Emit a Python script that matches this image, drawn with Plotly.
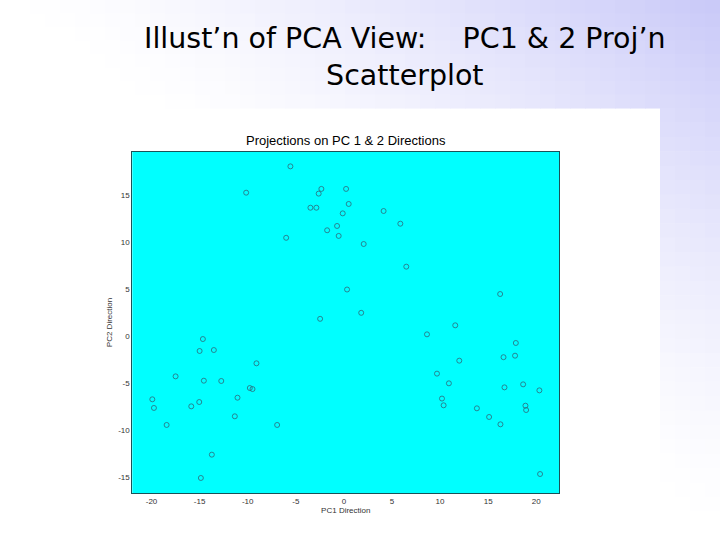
import plotly.graph_objects as go

# ---- data ----
pc1 = [-5.56, -10.16, -2.34, -2.62, 0.23, -3.48, -2.86, 0.5, -0.12, -0.71,
       -1.74, -0.54, -6.0, 0.33, -2.47, 4.13, 5.87, 2.06, 6.49, 16.25,
       1.8, -14.66, -15.0, -13.52, -9.09, -17.5, -14.56, -12.75, -9.78, -9.5,
       -19.92, -19.75, -15.87, -15.04, -11.06, -11.34, -18.43, -6.94, -13.73, -14.87,
       11.58, 8.64, 17.88, 16.6, 17.8, 12.0, 9.68, 10.92, 16.7, 18.64,
       20.33, 10.2, 10.37, 13.83, 18.88, 18.95, 15.1, 16.28, 20.4]
pc2 = [18.1, 15.3, 15.7, 15.2, 15.7, 13.7, 13.7, 14.1, 13.1, 11.76,
       11.3, 10.7, 10.5, 5.0, 1.88, 13.35, 12.0, 9.84, 7.43, 4.52,
       2.52, -0.27, -1.54, -1.44, -2.85, -4.24, -4.7, -4.73, -5.48, -5.59,
       -6.68, -7.6, -7.43, -6.97, -6.51, -8.49, -9.41, -9.41, -12.57, -15.05,
       1.19, 0.23, -0.69, -2.2, -2.04, -2.57, -3.95, -4.98, -5.41, -5.09,
       -5.73, -6.6, -7.32, -7.64, -7.36, -7.82, -8.56, -9.34, -14.63]
x_ticks = [-20, -15, -10, -5, 0, 5, 10, 15, 20]
y_ticks = [-15, -10, -5, 0, 5, 10, 15]

W, H = 720, 540

fig = go.Figure()
fig.add_trace(go.Scatter(
    x=pc1, y=pc2, mode="markers",
    marker=dict(symbol="circle-open", size=5, color="#2f6878", line=dict(width=0.8)),
    showlegend=False, hoverinfo="x+y"))

# ---- slide background gradient (decoration) ----
shapes = []
def shade(cx, cy):
    t = 1 - ((W - cx) / W + cy / H)
    t = max(0.0, min(1.0, t)) ** 1.4
    r = round(255 - t * (255 - 200))
    g = round(255 - t * (255 - 200))
    b = round(255 - t * (255 - 248))
    return f"rgb({r},{g},{b})"

def add_rect(x0, x1, y0, y1, color):
    shapes.append(dict(type="rect", xref="paper", yref="paper",
                       x0=x0 / W, x1=min(1, x1 / W + 0.001),
                       y0=max(0, 1 - y1 / H - 0.001), y1=1 - y0 / H,
                       fillcolor=color, line=dict(width=0), layer="below"))

nx, ny = 48, 8
for i in range(nx):
    for j in range(ny):
        x0, x1 = i * W / nx, (i + 1) * W / nx
        y0, y1 = j * 108 / ny, (j + 1) * 108 / ny
        add_rect(x0, x1, y0, y1, shade((x0 + x1) / 2, (y0 + y1) / 2))
for i in range(4):
    for j in range(30):
        x0, x1 = 660 + i * 60 / 4, 660 + (i + 1) * 60 / 4
        y0, y1 = 108 + j * 432 / 30, 108 + (j + 1) * 432 / 30
        add_rect(x0, x1, y0, y1, shade((x0 + x1) / 2, (y0 + y1) / 2))

tick_font = dict(family="Liberation Sans, Arial", size=8, color="#333333")
axis_common = dict(showgrid=False, zeroline=False, showline=True, mirror=True,
                   linecolor="#1a5258", linewidth=1, ticks="", tickfont=tick_font)

fig.update_layout(
    width=W, height=H, margin=dict(l=0, r=0, t=0, b=0),
    paper_bgcolor="white", plot_bgcolor="#00ffff",
    shapes=shapes,
    xaxis=dict(domain=[132.3 / W, 559.3 / W], range=[-22.0, 22.4],
               tickvals=x_ticks, ticktext=[str(v) for v in x_ticks],
               title=dict(text="PC1 Direction", standoff=2, font=tick_font),
               **axis_common),
    yaxis=dict(domain=[(H - 493.3) / H, (H - 151.7) / H], range=[-16.68, 19.66],
               tickvals=y_ticks, ticktext=[str(v) for v in y_ticks],
               title=dict(text="PC2 Direction", standoff=4, font=tick_font),
               **axis_common),
    annotations=[
        dict(text="Illust\u2019n of PCA View:\u00a0\u00a0\u00a0\u00a0PC1 & 2 Proj\u2019n<br>Scatterplot",
             xref="paper", yref="paper", x=405 / W, y=1 - 57 / H,
             xanchor="center", yanchor="middle", showarrow=False, align="center",
             font=dict(family="DejaVu Sans", size=28.5, color="black")),
        dict(text="Projections on PC 1 & 2 Directions",
             xref="paper", yref="paper", x=346 / W, y=1 - 140 / H,
             xanchor="center", yanchor="middle", showarrow=False,
             font=dict(family="Liberation Sans, Arial", size=13, color="black")),
    ],
)

fig.write_html("out.html", config={"displayModeBar": False},
               post_script="document.body.style.margin='0';")
